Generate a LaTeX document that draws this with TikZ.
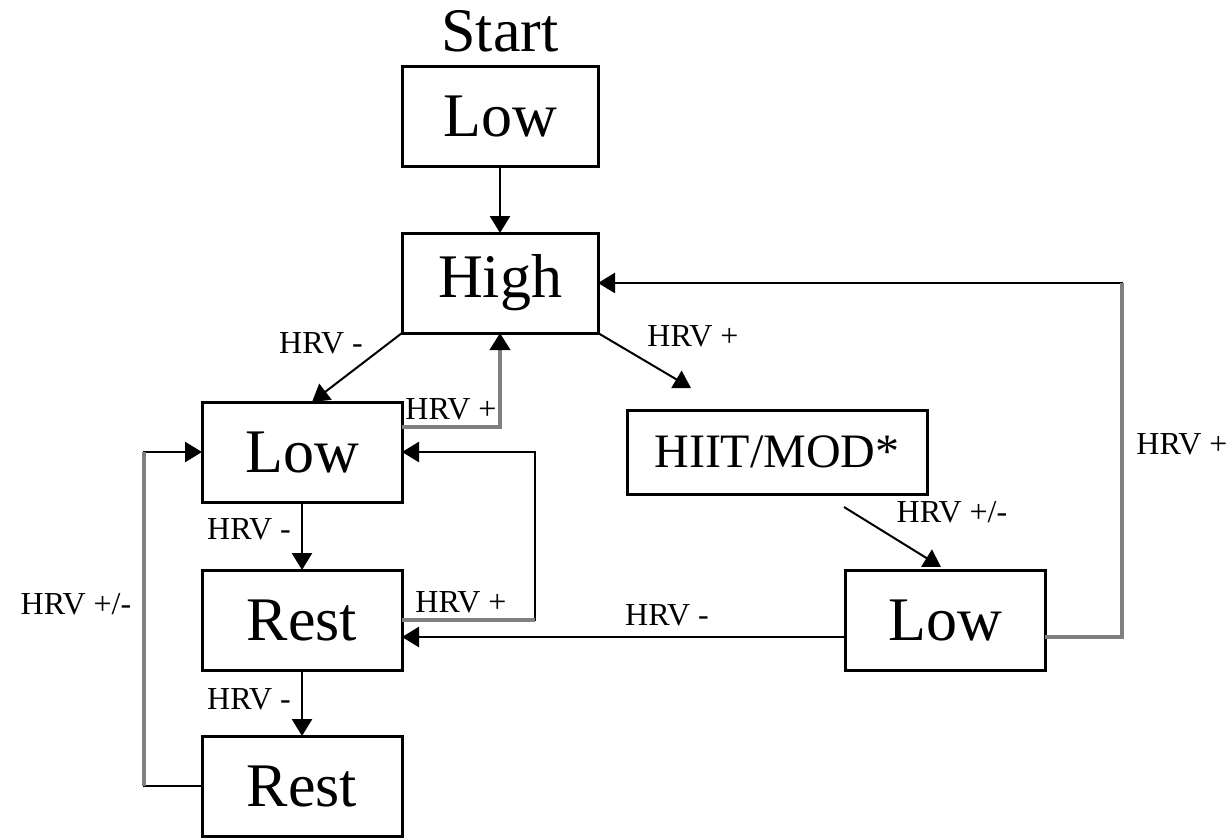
\documentclass[tikz,border=0pt]{standalone}
\usepackage{fontspec}
\setmainfont{Liberation Serif}
\usetikzlibrary{arrows.meta, positioning, calc}

\begin{document}
\begin{tikzpicture}[
  x=0.5pt, y=-0.5pt,
  statebox/.style={
    rectangle, draw=black, line width=1.5pt,
    minimum width=100pt, minimum height=50pt,
    inner sep=0pt, outer sep=0pt, font=\fontsize{31}{31}\selectfont
  },
  hrvlabel/.style={inner sep=0pt, font=\fontsize{16}{16}\selectfont},
  arrow/.style={-{Triangle[length=8.5pt,width=10pt]}, line width=1.3pt, draw=black},
  thinarrow/.style={arrow, line width=1pt},
  grayarrow/.style={-{Triangle[length=8.5pt,width=10pt,color=black,fill=black]},
    line width=2pt, draw=black!50},
  grayseg/.style={line width=2pt, draw=black!50}
]
\useasboundingbox (0,0) rectangle (1230,837);

\node[statebox, minimum width=98pt] (lowA) at (500,116) {Low};
\node[inner sep=0pt, above=7pt of lowA, font=\fontsize{31}{31}\selectfont] (start) {Start};
\node[statebox, minimum width=98pt, below=33.5pt of lowA] (high) {High};
\node[statebox, below left=34.5pt and 0pt of high] (lowB) {Low};
\node[statebox, below=34pt of lowB] (rest1) {Rest};
\node[statebox, below=33pt of rest1] (rest2) {Rest};
\node[statebox, minimum width=150pt, minimum height=42pt,
      font=\fontsize{24}{24}\selectfont,
      below right=38.5pt and 14.5pt of high] (hiit) {HIIT/MOD*};
\node[statebox, right=221.5pt of rest1] (lowC) {Low};

% transitions
\draw[arrow] (lowA) -- (high);
\draw[thinarrow] (high.south west) -- ($(lowB.north)+(10,0)$);
\draw[thinarrow] (high.south east) -- ($(hiit.north)+(-86,-22)$);
\draw[thinarrow] ($(hiit.south)+(67,13)$) -- ($(lowC.north)+(-4,-3)$);
\draw[grayarrow] ($(lowB.north east)+(0,25)$) -| (high.south);
\draw[arrow] (lowB) -- (rest1);
\draw[arrow] (rest1) -- (rest2);
\draw[arrow] (rest1.east) -- ++(133,0) |- (lowB.east);
\draw[grayseg] (rest1.east) -- ++(133,0);
\draw[arrow] ($(lowC.west)+(0,17)$) -- ($(rest1.east)+(0,17)$);
\coordinate (rc) at ($(lowC.east)+(77,17)$);
\draw[arrow] ($(lowC.east)+(0,17)$) -- (rc) |- (high.east);
\draw[grayseg] ($(lowC.east)+(0,17)$) -- (rc) -- (rc |- high.east);
\coordinate (lc) at ($(rest2.west)+(-58,0)$);
\draw[arrow] (rest2.west) -- (lc) |- (lowB.west);
\draw[grayseg] (lc) -- (lc |- lowB.west);

% labels
\node[hrvlabel] (t1) at (321,343) {HRV -};
\node[hrvlabel] (t2) at (451,409) {HRV +};
\node[hrvlabel] (t3) at (693,336) {HRV +};
\node[hrvlabel] (t4) at (952,512) {HRV +/-};
\node[hrvlabel] (t5) at (1182,444) {HRV +};
\node[hrvlabel] (t6) at (249,529) {HRV -};
\node[hrvlabel] (t7) at (461,602) {HRV +};
\node[hrvlabel] (t8) at (667,615) {HRV -};
\node[hrvlabel] (t9) at (249,699) {HRV -};
\node[hrvlabel] (t10) at (76,604) {HRV +/-};
\end{tikzpicture}
\end{document}
